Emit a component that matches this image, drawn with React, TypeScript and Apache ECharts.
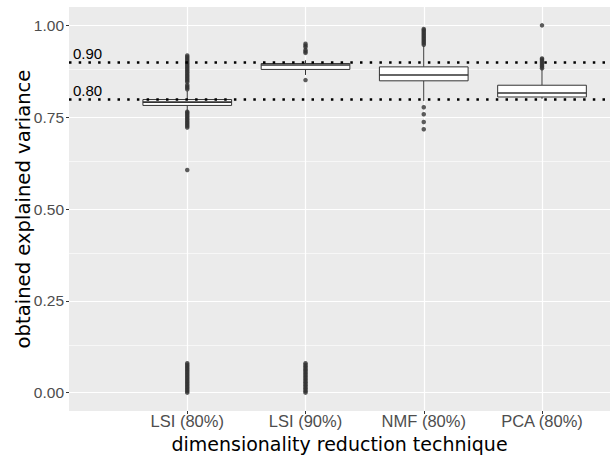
import React, { useEffect, useRef } from "react";
import * as echarts from "echarts";

const categories = ["LSI (80%)", "LSI (90%)", "NMF (80%)", "PCA (80%)"];
const positions = [1, 2, 3, 4];
// [lower whisker, Q1, median, Q3, upper whisker]
const boxStats = [
  [0.76, 0.782, 0.791, 0.798, 0.822],
  [0.865, 0.88, 0.892, 0.896, 0.905],
  [0.794, 0.849, 0.865, 0.887, 0.944],
  [0.8, 0.805, 0.816, 0.837, 0.882],
];
const lsi80Outliers = [
  0.826, 0.83, 0.834, 0.838, 0.846, 0.85, 0.854, 0.858, 0.862, 0.866, 0.87, 0.874, 0.878, 0.882,
  0.886, 0.89, 0.894, 0.898, 0.902, 0.906, 0.91, 0.914, 0.918,
  0.722, 0.726, 0.73, 0.734, 0.738, 0.742, 0.746, 0.75, 0.754, 0.758, 0.762, 0.765,
  0.606,
  0.0, 0.004, 0.008, 0.012, 0.016, 0.02, 0.024, 0.028, 0.032, 0.036, 0.04, 0.044, 0.048, 0.052,
  0.056, 0.06, 0.064, 0.068, 0.072, 0.076, 0.08,
];
const lsi90Outliers = [
  0.925, 0.929, 0.933, 0.941, 0.945, 0.95,
  0.851,
  0.0, 0.004, 0.008, 0.012, 0.016, 0.02, 0.024, 0.028, 0.032, 0.036, 0.04, 0.044, 0.048, 0.052,
  0.056, 0.06, 0.064, 0.068, 0.072, 0.076, 0.08,
];
const nmfOutliers = [
  0.947, 0.951, 0.955, 0.959, 0.963, 0.967, 0.971, 0.975, 0.979, 0.983, 0.987, 0.99,
  0.777, 0.758, 0.737, 0.717,
];
const pcaOutliers = [0.883, 0.887, 0.891, 0.895, 0.899, 0.903, 0.907, 0.91, 1.0];
const outliers = [lsi80Outliers, lsi90Outliers, nmfOutliers, pcaOutliers];
const yTicks = [0, 0.25, 0.5, 0.75, 1];
const yMinorTicks = [0.125, 0.375, 0.625, 0.875];
const refLines = [0.9, 0.8];
const refLabels = ["0.90", "0.80"];

const FONT = "Liberation Sans, Arial, Helvetica, sans-serif";
const TITLE_FONT = "DejaVu Sans, Liberation Sans, sans-serif";

export default function App() {
  const ref = useRef<HTMLDivElement>(null);
  useEffect(() => {
    document.body.style.margin = "0";
    const chart = echarts.init(ref.current!, null, { renderer: "svg" });
    const boxData = boxStats.map((s, i) => [positions[i], ...s]);
    const outlierData = outliers.flatMap((arr, i) => arr.map((v) => [positions[i], v]));
    chart.setOption({
      animation: false,
      backgroundColor: "#ffffff",
      grid: {
        left: 69,
        right: 0,
        top: 7,
        bottom: 46,
        show: true,
        backgroundColor: "#EBEBEB",
        borderWidth: 0,
        containLabel: false,
        outerBoundsMode: "none",
      },
      xAxis: {
        type: "value",
        min: 0,
        max: 4.575,
        name: "dimensionality reduction technique",
        nameLocation: "middle",
        nameGap: 23,
        nameMoveOverlap: false,
        nameTextStyle: { fontFamily: TITLE_FONT, fontSize: 19, color: "#000000" },
        axisLine: { show: false, onZero: false },
        axisTick: { show: true, length: 3, lineStyle: { color: "#333333", width: 1 }, customValues: positions },
        axisLabel: {
          customValues: positions,
          margin: 1.5,
          fontFamily: FONT,
          fontSize: 16.5,
          color: "#4D4D4D",
          formatter: (v: number) => categories[Math.round(v) - 1] ?? "",
        },
        splitLine: { show: true, lineStyle: { color: "#ffffff", width: 1.2 } },
      },
      yAxis: {
        type: "value",
        min: -0.05,
        max: 1.05,
        name: "obtained explained variance",
        nameLocation: "middle",
        nameGap: 36,
        nameMoveOverlap: false,
        nameTextStyle: { fontFamily: TITLE_FONT, fontSize: 19.6, color: "#000000" },
        axisLine: { show: false, onZero: false },
        axisTick: { show: true, length: 3, lineStyle: { color: "#333333", width: 1 }, customValues: yTicks },
        axisLabel: {
          customValues: yTicks,
          margin: 5,
          fontFamily: FONT,
          fontSize: 15.5,
          color: "#4D4D4D",
          formatter: (v: number) => v.toFixed(2),
        },
        splitLine: { show: true, lineStyle: { color: "#ffffff", width: 1.2 } },
      },
      series: [
        {
          type: "line",
          data: [],
          silent: true,
          z: 1,
          markLine: {
            silent: true,
            z: 1,
            symbol: "none",
            label: { show: false },
            lineStyle: { color: "#ffffff", width: 0.6, type: "solid" },
            data: yMinorTicks.map((v) => ({ yAxis: v })),
          },
        },
        {
          type: "scatter",
          z: 3,
          symbol: "circle",
          symbolSize: 4.5,
          itemStyle: { color: "#333333" },
          silent: true,
          data: outlierData,
        },
        {
          type: "custom",
          z: 4,
          silent: true,
          encode: { x: 0, y: [1, 2, 3, 4, 5] },
          data: boxData,
          renderItem: (params: any, api: any) => {
            const x = api.value(0);
            const half = api.size([1, 0])[0] * 0.375;
            const pLow = api.coord([x, api.value(1)]);
            const pQ1 = api.coord([x, api.value(2)]);
            const pMed = api.coord([x, api.value(3)]);
            const pQ3 = api.coord([x, api.value(4)]);
            const pHigh = api.coord([x, api.value(5)]);
            const stroke = { stroke: "#333333", lineWidth: 1 };
            return {
              type: "group",
              children: [
                { type: "line", shape: { x1: pHigh[0], y1: pHigh[1], x2: pQ3[0], y2: pQ3[1] }, style: stroke },
                { type: "line", shape: { x1: pLow[0], y1: pLow[1], x2: pQ1[0], y2: pQ1[1] }, style: stroke },
                {
                  type: "rect",
                  shape: { x: pQ3[0] - half, y: pQ3[1], width: half * 2, height: pQ1[1] - pQ3[1] },
                  style: { fill: "#ffffff", stroke: "#333333", lineWidth: 1 },
                },
                {
                  type: "line",
                  shape: { x1: pMed[0] - half, y1: pMed[1], x2: pMed[0] + half, y2: pMed[1] },
                  style: { stroke: "#333333", lineWidth: 1.6 },
                },
              ],
            };
          },
        },
        {
          type: "line",
          data: [],
          silent: true,
          z: 10,
          markLine: {
            silent: true,
            z: 10,
            symbol: "none",
            lineStyle: { color: "#000000", width: 2.5, type: [2.5, 7.2], cap: "butt" },
            label: {
              show: true,
              position: "insideStartTop",
              distance: [4, 1],
              fontFamily: FONT,
              fontSize: 15,
              color: "#000000",
              formatter: (p: any) => refLabels[p.dataIndex] ?? "",
            },
            data: refLines.map((v) => ({ yAxis: v })),
          },
        },
      ],
    });
    return () => chart.dispose();
  }, []);
  return <div ref={ref} style={{ width: 610, height: 457, position: "absolute", left: 0, top: 0 }} />;
}
